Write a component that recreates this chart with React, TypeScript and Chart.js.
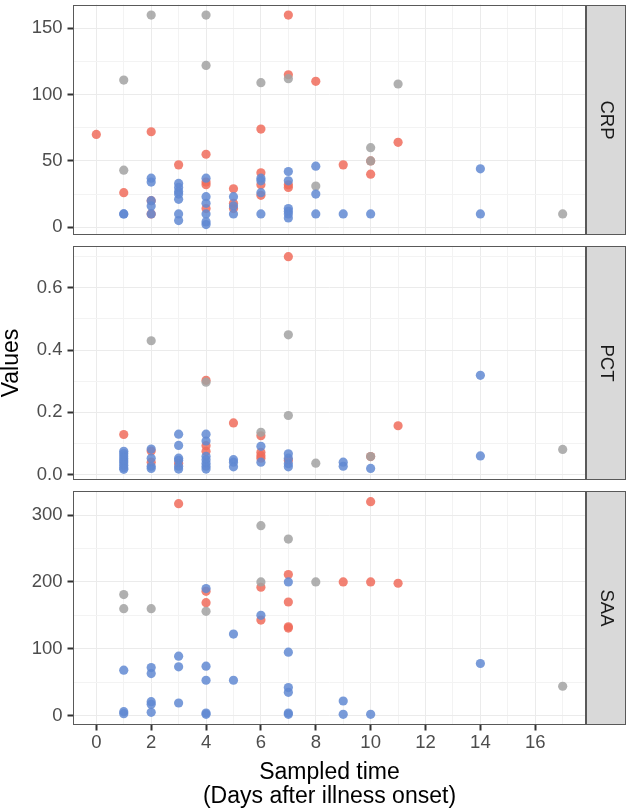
import React, { useEffect, useRef } from 'react';
import { Chart, registerables } from 'chart.js';

Chart.register(...registerables);

type P = [number, number];

// ---- data: [day, value] ----
const CRP_BLUE: P[] = [
  [1, 10], [1, 10], [2, 37], [2, 34], [2, 20], [2, 16], [2, 10],
  [3, 33], [3, 30], [3, 27], [3, 25], [3, 21], [3, 10], [3, 5],
  [4, 37], [4, 23], [4, 18], [4, 10], [4, 4], [4, 2],
  [5, 23], [5, 16], [5, 10],
  [6, 37], [6, 35], [6, 26], [6, 10],
  [7, 42], [7, 35], [7, 14], [7, 12], [7, 10], [7, 7],
  [8, 46], [8, 25], [8, 10], [9, 10], [10, 10], [14, 44], [14, 10],
];
const CRP_GRAY: P[] = [
  [1, 111], [1, 43], [2, 160], [4, 160], [4, 122], [6, 109], [7, 112],
  [8, 31], [10, 60], [10, 50], [11, 108], [17, 10],
];
const CRP_RED: P[] = [
  [0, 70], [1, 26], [2, 72], [2, 20], [2, 10], [3, 47],
  [4, 55], [4, 34], [4, 32], [4, 14], [5, 29], [5, 18], [5, 14],
  [6, 74], [6, 41], [6, 32], [6, 24], [7, 160], [7, 115], [7, 32], [7, 30],
  [8, 110], [9, 47], [10, 50], [10, 40], [11, 64],
];

const PCT_BLUE: P[] = [
  [1, 0.075], [1, 0.068], [1, 0.06], [1, 0.052], [1, 0.045], [1, 0.038], [1, 0.03], [1, 0.022], [1, 0.017],
  [2, 0.082], [2, 0.053], [2, 0.027], [2, 0.02],
  [3, 0.13], [3, 0.094], [3, 0.053], [3, 0.046], [3, 0.027], [3, 0.018],
  [4, 0.13], [4, 0.108], [4, 0.059], [4, 0.048], [4, 0.037], [4, 0.027], [4, 0.018],
  [5, 0.048], [5, 0.04], [5, 0.025],
  [6, 0.091], [6, 0.04],
  [7, 0.067], [7, 0.053], [7, 0.035], [7, 0.025],
  [9, 0.04], [9, 0.027], [10, 0.02], [14, 0.319], [14, 0.06],
];
const PCT_GRAY: P[] = [
  [2, 0.43], [4, 0.297], [6, 0.136], [7, 0.449], [7, 0.19], [8, 0.037], [10, 0.058], [17, 0.081],
];
const PCT_RED: P[] = [
  [1, 0.129], [2, 0.076], [2, 0.04], [3, 0.037], [4, 0.303], [4, 0.093], [4, 0.075],
  [5, 0.166], [6, 0.125], [6, 0.072], [6, 0.061], [6, 0.053], [7, 0.7], [7, 0.046],
  [10, 0.058], [11, 0.157],
];

const SAA_BLUE: P[] = [
  [1, 68], [1, 6], [1, 3], [2, 72], [2, 63], [2, 21], [2, 17], [2, 5],
  [3, 89], [3, 73], [3, 19], [4, 190], [4, 74], [4, 53], [4, 4], [4, 2],
  [5, 122], [5, 53], [6, 150], [7, 200], [7, 95], [7, 42], [7, 35], [7, 4], [7, 2],
  [9, 22], [9, 2], [10, 2], [14, 78],
];
const SAA_GRAY: P[] = [
  [1, 181], [1, 160], [2, 160], [4, 156], [6, 284], [6, 200], [7, 264], [8, 200], [17, 44],
];
const SAA_RED: P[] = [
  [3, 317], [4, 186], [4, 169], [6, 192], [6, 143], [7, 211], [7, 170], [7, 133], [7, 131],
  [9, 200], [10, 320], [10, 200], [11, 198],
];

// ---- ticks ----
const X_MAJOR = [0, 2, 4, 6, 8, 10, 12, 14, 16];
const X_MINOR = [1, 3, 5, 7, 9, 11, 13, 15, 17];
const CRP_MAJOR = [0, 50, 100, 150];
const CRP_MINOR = [25, 75, 125];
const PCT_MAJOR = [0, 0.2, 0.4, 0.6];
const PCT_MINOR = [0.1, 0.3, 0.5, 0.7];
const SAA_MAJOR = [0, 100, 200, 300];
const SAA_MINOR = [50, 150, 250];

const PANEL_LABELS = ['CRP', 'PCT', 'SAA'];
const X_TITLE = ['Sampled time', '(Days after illness onset)'];
const Y_TITLE = 'Values';

// ---- styles ----
const FONT = "'Liberation Sans', Arial, Helvetica, sans-serif";
const COL_BLUE = 'rgba(98,138,210,0.85)';
const COL_GRAY = 'rgba(162,162,162,0.85)';
const COL_RED = 'rgba(240,108,92,0.85)';
const W = 628;
const H = 812;

function expand(vals: number[]): [number, number] {
  const mn = Math.min(...vals);
  const mx = Math.max(...vals);
  const r = mx - mn;
  return [mn - 0.05 * r, mx + 0.05 * r];
}

function buildTicks(major: number[], minor: number[]) {
  return [
    ...major.map((v) => ({ value: v, mj: true })),
    ...minor.map((v) => ({ value: v, mj: false })),
  ].sort((a, b) => a.value - b.value);
}

const decoPlugin = (label: string) => ({
  id: 'panelDeco',
  afterDraw(chart: any) {
    const { ctx, chartArea: a } = chart;
    ctx.save();
    const l = Math.round(a.left);
    const t = Math.round(a.top);
    const r = Math.round(a.right);
    const b = Math.round(a.bottom);
    // strip
    ctx.fillStyle = '#D9D9D9';
    ctx.fillRect(r, t, 40, b - t);
    ctx.strokeStyle = '#595959';
    ctx.lineWidth = 1;
    ctx.strokeRect(r + 0.5, t + 0.5, 39, b - t - 1);
    // panel border
    ctx.strokeStyle = '#595959';
    ctx.strokeRect(l + 0.5, t + 0.5, r - l - 1, b - t - 1);
    // strip text
    ctx.translate(r + 20, (t + b) / 2);
    ctx.rotate(Math.PI / 2);
    ctx.fillStyle = '#1A1A1A';
    ctx.font = `18.5px ${FONT}`;
    ctx.textAlign = 'center';
    ctx.textBaseline = 'middle';
    ctx.fillText(label, 0, 0);
    ctx.restore();
  },
});

type PanelCfg = {
  label: string;
  blue: P[];
  gray: P[];
  red: P[];
  major: number[];
  minor: number[];
  fmt: (v: number) => string;
  top: number;
  height: number;
  padTop: number;
  padBottom: number;
  showX: boolean;
  showYTitle: boolean;
};

const ALL_X = [...CRP_BLUE, ...CRP_GRAY, ...CRP_RED, ...PCT_BLUE, ...PCT_GRAY, ...PCT_RED, ...SAA_BLUE, ...SAA_GRAY, ...SAA_RED].map((p) => p[0]);

const PANELS: PanelCfg[] = [
  { label: PANEL_LABELS[0], blue: CRP_BLUE, gray: CRP_GRAY, red: CRP_RED, major: CRP_MAJOR, minor: CRP_MINOR, fmt: (v) => String(v), top: 0, height: 240, padTop: 1, padBottom: 5, showX: false, showYTitle: false },
  { label: PANEL_LABELS[1], blue: PCT_BLUE, gray: PCT_GRAY, red: PCT_RED, major: PCT_MAJOR, minor: PCT_MINOR, fmt: (v) => v.toFixed(1), top: 240, height: 245, padTop: 6, padBottom: 5, showX: false, showYTitle: true },
  { label: PANEL_LABELS[2], blue: SAA_BLUE, gray: SAA_GRAY, red: SAA_RED, major: SAA_MAJOR, minor: SAA_MINOR, fmt: (v) => String(v), top: 485, height: 327, padTop: 6, padBottom: 0, showX: true, showYTitle: false },
];

const X_AXIS_H = 87;

function Panel({ cfg }: { cfg: PanelCfg }) {
  const ref = useRef<HTMLCanvasElement | null>(null);
  useEffect(() => {
    if (!ref.current) return;
    const xr = expand(ALL_X);
    const yr = expand([...cfg.blue, ...cfg.gray, ...cfg.red].map((p) => p[1]));
    const mk = (pts: P[], color: string) => ({
      data: pts.map(([x, y]) => ({ x, y })),
      backgroundColor: color,
      borderWidth: 0,
      pointRadius: 4.6,
      pointHoverRadius: 4.6,
    });
    const gridColor = (c: any) => (c.tick && c.tick.mj ? '#EBEBEB' : '#F3F3F3');
    const tickColor = (c: any) => (c.tick && c.tick.mj ? '#333333' : 'rgba(0,0,0,0)');
    const chart = new Chart(ref.current, {
      type: 'scatter',
      data: {
        datasets: [mk(cfg.blue, COL_BLUE), mk(cfg.gray, COL_GRAY), mk(cfg.red, COL_RED)],
      },
      options: {
        animation: false,
        responsive: false,
        events: [],
        font: { family: FONT },
        plugins: { legend: { display: false }, tooltip: { enabled: false } },
        layout: { padding: { top: cfg.padTop, bottom: cfg.padBottom, left: 0, right: 42 } },
        scales: {
          x: {
            type: 'linear',
            min: xr[0],
            max: xr[1],
            afterBuildTicks: (s: any) => {
              s.ticks = buildTicks(X_MAJOR, X_MINOR);
            },
            afterFit: (s: any) => {
              s.paddingLeft = 0;
              s.paddingRight = 0;
              s.height = cfg.showX ? X_AXIS_H : 0;
            },
            ticks: {
              display: cfg.showX,
              autoSkip: false,
              maxRotation: 0,
              padding: 1.5,
              color: '#4D4D4D',
              font: { family: FONT, size: 18.5, lineHeight: 1.2 },
              callback: (v: any, i: number, t: any[]) => (t[i] && t[i].mj ? String(v) : ''),
            },
            grid: {
              color: gridColor,
              lineWidth: 1,
              drawTicks: cfg.showX,
              tickLength: 5.5,
              tickColor: tickColor,
              tickWidth: 2,
            },
            border: { display: false },
            title: {
              display: cfg.showX,
              text: X_TITLE,
              color: '#000000',
              font: { family: FONT, size: 23, lineHeight: '24px' },
              padding: { top: 0, bottom: 3 },
            },
          },
          y: {
            type: 'linear',
            min: yr[0],
            max: yr[1],
            afterBuildTicks: (s: any) => {
              s.ticks = buildTicks(cfg.major, cfg.minor);
            },
            afterFit: (s: any) => {
              s.width = 73;
              s.paddingTop = 0;
              s.paddingBottom = 0;
            },
            ticks: {
              autoSkip: false,
              padding: 5,
              color: '#4D4D4D',
              font: { family: FONT, size: 18.5, lineHeight: 1.2 },
              callback: (v: any, i: number, t: any[]) => (t[i] && t[i].mj ? cfg.fmt(Number(v)) : ''),
            },
            grid: {
              color: gridColor,
              lineWidth: 1,
              drawTicks: true,
              tickLength: 5.5,
              tickColor: tickColor,
              tickWidth: 2,
            },
            border: { display: false },
            title: {
              display: cfg.showYTitle,
              text: Y_TITLE,
              color: '#000000',
              font: { family: FONT, size: 23, lineHeight: 1 },
              padding: { top: 0, bottom: 0 },
            },
          },
        },
      } as any,
      plugins: [decoPlugin(cfg.label)],
    });
    return () => chart.destroy();
  }, [cfg]);
  return (
    <canvas
      ref={ref}
      width={W}
      height={cfg.height}
      style={{ position: 'absolute', left: 0, top: cfg.top, width: W, height: cfg.height, display: 'block' }}
    />
  );
}

export default function App() {
  return (
    <div style={{ position: 'absolute', left: 0, top: 0, width: W, height: H, background: '#FFFFFF', overflow: 'hidden' }}>
      {PANELS.map((p) => (
        <Panel key={p.label} cfg={p} />
      ))}
    </div>
  );
}
